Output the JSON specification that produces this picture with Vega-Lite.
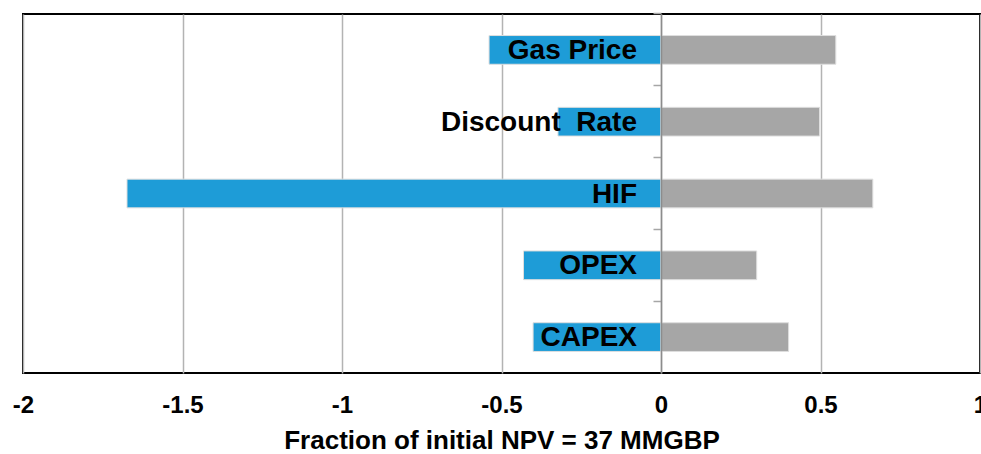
{
  "$schema": "https://vega.github.io/schema/vega-lite/v6.json",
  "width": 957,
  "height": 359,
  "autosize": {"type": "none"},
  "padding": {"left": 23, "top": 14, "right": 1, "bottom": 81},
  "background": "white",
  "config": {
    "view": {"stroke": "#000000", "strokeWidth": 2},
    "font": "Liberation Sans"
  },
  "data": {
    "values": [
      {"factor": "Gas Price", "side": "low", "value": -0.539},
      {"factor": "Gas Price", "side": "high", "value": 0.548},
      {"factor": "Discount \u00a0Rate", "side": "low", "value": -0.323},
      {"factor": "Discount \u00a0Rate", "side": "high", "value": 0.497},
      {"factor": "HIF", "side": "low", "value": -1.674},
      {"factor": "HIF", "side": "high", "value": 0.664},
      {"factor": "OPEX", "side": "low", "value": -0.431},
      {"factor": "OPEX", "side": "high", "value": 0.3},
      {"factor": "CAPEX", "side": "low", "value": -0.401},
      {"factor": "CAPEX", "side": "high", "value": 0.4}
    ]
  },
  "encoding": {
    "y": {
      "field": "factor",
      "type": "nominal",
      "sort": null,
      "scale": {"paddingInner": 0.6, "paddingOuter": 0.3},
      "axis": {
        "title": null,
        "labels": false,
        "offset": -638,
        "domainColor": "#8c8c8c",
        "domainWidth": 1.5,
        "tickColor": "#a6a6a6",
        "tickSize": 8,
        "tickWidth": 1.5,
        "bandPosition": -0.75,
        "grid": false,
        "zindex": 1
      }
    }
  },
  "layer": [
    {
      "mark": {"type": "bar", "stroke": "#dedede", "strokeWidth": 1},
      "encoding": {
        "x": {
          "field": "value",
          "type": "quantitative",
          "stack": null,
          "scale": {"domain": [-2, 1], "nice": false, "zero": false},
          "axis": {
            "values": [-2, -1.5, -1, -0.5, 0, 0.5, 1],
            "labelExpr": "'' + datum.value",
            "domain": false,
            "ticks": false,
            "grid": true,
            "gridColor": "#b3b3b3",
            "gridWidth": 1.5,
            "labelFont": "Liberation Sans",
            "labelFontWeight": "bold",
            "labelFontSize": 24,
            "labelColor": "#000000",
            "labelPadding": 20,
            "labelOverlap": false,
            "labelFlush": false,
            "title": "Fraction of initial NPV = 37 MMGBP",
            "titleFont": "Liberation Sans",
            "titleFontWeight": "bold",
            "titleFontSize": 26,
            "titleColor": "#000000",
            "titlePadding": 10
          }
        },
        "color": {
          "field": "side",
          "type": "nominal",
          "scale": {"domain": ["low", "high"], "range": ["#1e9cd7", "#a6a6a6"]},
          "legend": null
        }
      }
    },
    {
      "transform": [{"filter": "datum.side == 'low'"}],
      "mark": {
        "type": "text",
        "align": "right",
        "baseline": "middle",
        "dx": -24,
        "dy": 1,
        "font": "Liberation Sans",
        "fontWeight": "bold",
        "fontSize": 28,
        "color": "#000000"
      },
      "encoding": {
        "x": {"datum": 0, "type": "quantitative"},
        "text": {"field": "factor"}
      }
    }
  ]
}
